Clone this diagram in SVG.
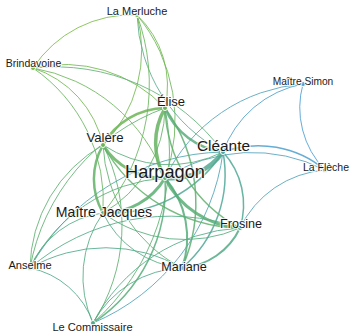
<svg xmlns="http://www.w3.org/2000/svg" width="351" height="332" viewBox="0 0 351 332">
<style>
.bg{fill:#ffffff}
#links path{fill:none;stroke-opacity:0.85;stroke-linecap:round}
.w1{stroke-width:1}
.w15{stroke-width:1.5}
.w2{stroke-width:2}
.w25{stroke-width:2.5}
.w3{stroke-width:3}
.w35{stroke-width:3.5}
.w45{stroke-width:4.5}
.node circle{stroke:#ffffff;stroke-width:1}
.node text{font-family:"Liberation Sans",Arial,sans-serif;fill:#1a1a1a;text-anchor:middle;stroke:#ffffff;stroke-width:2.2;stroke-opacity:0.8;paint-order:stroke;stroke-linejoin:round}
</style>
<rect class="bg" width="351" height="332"/>
<g id="links">
<path class="w1" stroke="#7bbd45" d="M33 68A116.7 116.7 0 0 1 137 15"/>
<path class="w1" stroke="#6cb658" d="M137 15A165.4 165.4 0 0 1 165 178"/>
<path class="w1" stroke="#5aab8c" d="M223 152A161.8 161.8 0 0 1 137 15"/>
<path class="w1" stroke="#73b94e" d="M137 15A97.1 97.1 0 0 1 165 108"/>
<path class="w1" stroke="#73b94e" d="M137 15A134.4 134.4 0 0 1 103 145"/>
<path class="w1" stroke="#69b55e" d="M137 15A200.9 200.9 0 0 1 103 213"/>
<path class="w1" stroke="#73b94e" d="M33 68A137.9 137.9 0 0 1 165 108"/>
<path class="w1" stroke="#62b175" d="M33 68A207.7 207.7 0 0 1 223 152"/>
<path class="w1" stroke="#73b94e" d="M33 68A104 104 0 0 1 103 145"/>
<path class="w1" stroke="#6cb658" d="M33 68A171.8 171.8 0 0 1 165 178"/>
<path class="w1" stroke="#69b55e" d="M33 68A161 161 0 0 1 103 213"/>
<path class="w1" stroke="#4a9dd4" d="M325 170A88.8 88.8 0 0 1 303 84"/>
<path class="w1" stroke="#4c9fc8" d="M223 152A105 105 0 0 1 303 84"/>
<path class="w1" stroke="#52a2bc" d="M165 178A167 167 0 0 1 303 84"/>
<path class="w15" stroke="#4a9fcc" d="M223 152A103.6 103.6 0 0 1 325 170"/>
<path class="w1" stroke="#52a2bc" d="M165 178A160.2 160.2 0 0 1 325 170"/>
<path class="w1" stroke="#50a3b8" d="M240 228A102.9 102.9 0 0 1 325 170"/>
<path class="w1" stroke="#4ca3b8" d="M223 152A214.8 214.8 0 0 1 93 323"/>
<path class="w1" stroke="#50a98a" d="M30 268A83.6 83.6 0 0 1 93 323"/>
<path class="w1" stroke="#50a98a" d="M93 323A104.6 104.6 0 0 1 182 268"/>
<path class="w1" stroke="#52aa85" d="M93 323A175 175 0 0 1 240 228"/>
<path class="w1" stroke="#54ab82" d="M93 323A110.5 110.5 0 0 1 103 213"/>
<path class="w1" stroke="#5eaf70" d="M103 145A178.3 178.3 0 0 1 93 323"/>
<path class="w15" stroke="#57ad7a" d="M165 178A161.9 161.9 0 0 1 93 323"/>
<path class="w1" stroke="#5eaf70" d="M165 108A226.7 226.7 0 0 1 93 323"/>
<path class="w1" stroke="#5eaf70" d="M30 268A143 143 0 0 1 103 145"/>
<path class="w1" stroke="#4ca5b0" d="M30 268A225.2 225.2 0 0 1 223 152"/>
<path class="w1" stroke="#50a98a" d="M30 268A152 152 0 0 1 182 268"/>
<path class="w1" stroke="#52aa85" d="M30 268A213.8 213.8 0 0 1 240 228"/>
<path class="w1" stroke="#57ad7a" d="M30 268A162.2 162.2 0 0 1 165 178"/>
<path class="w1" stroke="#5eaf70" d="M30 268A209.3 209.3 0 0 1 165 108"/>
<path class="w1" stroke="#54ab82" d="M30 268A91.4 91.4 0 0 1 103 213"/>
<path class="w25" stroke="#6cb556" d="M103 145A72.2 72.2 0 0 1 165 108"/>
<path class="w25" stroke="#5bad7e" d="M223 152A72.8 72.8 0 0 1 165 108"/>
<path class="w45" stroke="#52a993" d="M223 152A63.6 63.6 0 0 1 165 178"/>
<path class="w35" stroke="#65b360" d="M165 178A70 70 0 0 1 165 108"/>
<path class="w25" stroke="#62b266" d="M103 213A68 68 0 0 1 103 145"/>
<path class="w3" stroke="#65b360" d="M165 178A70.2 70.2 0 0 1 103 145"/>
<path class="w3" stroke="#5baf71" d="M165 178A71.2 71.2 0 0 1 103 213"/>
<path class="w3" stroke="#5aae75" d="M240 228A90.1 90.1 0 0 1 165 178"/>
<path class="w2" stroke="#52aa85" d="M240 228A70.5 70.5 0 0 1 182 268"/>
<path class="w15" stroke="#4da797" d="M223 152A123 123 0 0 1 182 268"/>
<path class="w15" stroke="#4fa893" d="M223 152A77.9 77.9 0 0 1 240 228"/>
<path class="w15" stroke="#51a88f" d="M223 152A134.6 134.6 0 0 1 103 213"/>
<path class="w1" stroke="#5bad7e" d="M223 152A120.2 120.2 0 0 1 103 145"/>
<path class="w15" stroke="#5eaf70" d="M165 108A160.9 160.9 0 0 1 182 268"/>
<path class="w15" stroke="#60b06b" d="M240 228A141.5 141.5 0 0 1 165 108"/>
<path class="w1" stroke="#62b266" d="M165 108A121.9 121.9 0 0 1 103 213"/>
<path class="w1" stroke="#5eaf70" d="M182 268A146.2 146.2 0 0 1 103 145"/>
<path class="w15" stroke="#60b06b" d="M240 228A160.2 160.2 0 0 1 103 145"/>
<path class="w1" stroke="#54ab82" d="M182 268A96.3 96.3 0 0 1 103 213"/>
<path class="w1" stroke="#56ac7c" d="M240 228A137.8 137.8 0 0 1 103 213"/>
<path class="w2" stroke="#57ad7a" d="M165 178A91.6 91.6 0 0 1 182 268"/>
</g>
<g id="node-la-merluche" class="node"><circle cx="137" cy="15" r="2.5" fill="#7bbd45"/><text x="137" y="15" font-size="11">La Merluche</text></g>
<g id="node-brindavoine" class="node"><circle cx="33" cy="68" r="2.5" fill="#7bbd45"/><text x="33.5" y="67" font-size="10.5">Brindavoine</text></g>
<g id="node-elise" class="node"><circle cx="165" cy="108" r="2.5" fill="#6cb556"/><text x="171" y="106" font-size="13">Élise</text></g>
<g id="node-valere" class="node"><circle cx="103" cy="145" r="2.5" fill="#6cb556"/><text x="105" y="142" font-size="13.2">Valère</text></g>
<g id="node-cleante" class="node"><circle cx="223" cy="152" r="2.5" fill="#4aa5a5"/><text x="223.5" y="151" font-size="15.4">Cléante</text></g>
<g id="node-harpagon" class="node"><circle cx="165" cy="178" r="2.5" fill="#5eb06a"/><text x="165" y="178" font-size="18.2">Harpagon</text></g>
<g id="node-maitre-jacques" class="node"><circle cx="103" cy="213" r="2.5" fill="#58ad78"/><text x="104" y="216.5" font-size="14.1">Maître Jacques</text></g>
<g id="node-frosine" class="node"><circle cx="240" cy="228" r="2.5" fill="#55ab80"/><text x="241" y="227.7" font-size="12.6">Frosine</text></g>
<g id="node-mariane" class="node"><circle cx="182" cy="268" r="2.5" fill="#50a98a"/><text x="184" y="270.5" font-size="12.6">Mariane</text></g>
<g id="node-anselme" class="node"><circle cx="30" cy="268" r="2.5" fill="#50a98a"/><text x="30" y="269" font-size="11.1">Anselme</text></g>
<g id="node-le-commissaire" class="node"><circle cx="93" cy="323" r="2.5" fill="#50a98a"/><text x="92.5" y="330.5" font-size="11.1">Le Commissaire</text></g>
<g id="node-maitre-simon" class="node"><circle cx="303" cy="84" r="2.5" fill="#4a9dd4"/><text x="303" y="85.3" font-size="10.2">Maître Simon</text></g>
<g id="node-la-fleche" class="node"><circle cx="325" cy="170" r="2.5" fill="#4a9dd4"/><text x="326" y="171" font-size="10.5">La Flèche</text></g>
</svg>
